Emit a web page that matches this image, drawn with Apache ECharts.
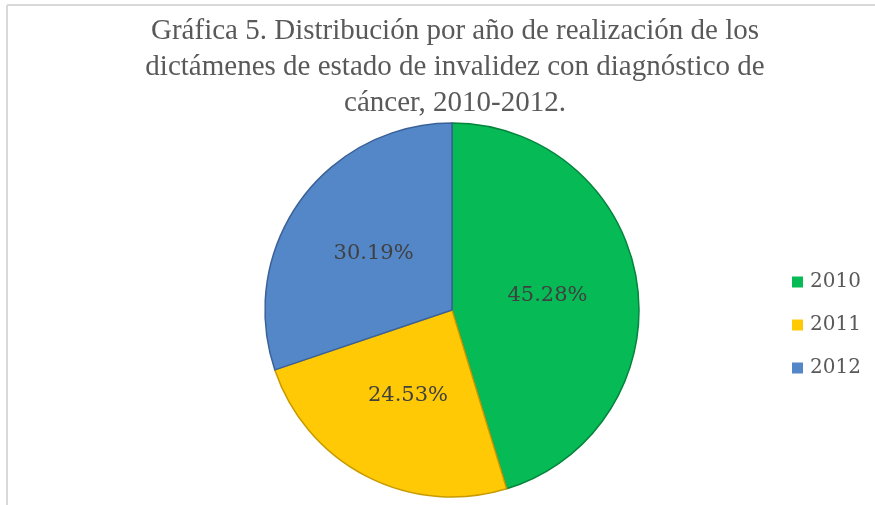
<!DOCTYPE html>
<html>
<head>
<meta charset="utf-8">
<script src="https://cdn.jsdelivr.net/npm/echarts@6/dist/echarts.min.js"></script>
<style>
html,body{margin:0;padding:0;background:#fff;}
#chart{width:875px;height:505px;}
</style>
</head>
<body>
<div id="chart"></div>
<script>
var categories = ['2010', '2011', '2012'];
var values = [45.28, 24.53, 30.19];
var colors = ['#06bb56', '#ffc906', '#5487c8'];
var borderColors = ['#04843c', '#c79a00', '#3b6298'];
var titleText = 'Gráfica 5. Distribución por año de realización de los\ndictámenes de estado de invalidez con diagnóstico de\ncáncer, 2010-2012.';

var chart = echarts.init(document.getElementById('chart'));
var data = categories.map(function (c, i) {
  return {
    name: c,
    value: values[i],
    itemStyle: { color: colors[i], borderColor: borderColors[i], borderWidth: 1.5 }
  };
});
chart.setOption({
  backgroundColor: '#ffffff',
  animation: false,
  title: {
    text: titleText,
    left: 455,
    textAlign: 'center',
    top: 13,
    padding: 0,
    textStyle: {
      fontFamily: 'Liberation Serif',
      fontSize: 29,
      fontWeight: 'normal',
      lineHeight: 36,
      color: '#595959'
    }
  },
  legend: {
    orient: 'vertical',
    left: 787,
    top: 267,
    itemWidth: 11,
    itemHeight: 11,
    itemGap: 23,
    icon: 'rect',
    data: categories,
    itemStyle: { borderWidth: 0 },
    textStyle: { fontFamily: 'DejaVu Serif', fontSize: 20, color: '#595959', padding: [0, 0, 0, 2] }
  },
  graphic: [
    { type: 'line', shape: { x1: 7, y1: 5, x2: 875, y2: 5 }, style: { stroke: '#d9d9d9', lineWidth: 2 } },
    { type: 'line', shape: { x1: 7, y1: 5, x2: 7, y2: 505 }, style: { stroke: '#d9d9d9', lineWidth: 2 } }
  ],
  series: [{
    type: 'pie',
    center: [452, 310],
    radius: 187,
    startAngle: 90,
    clockwise: true,
    data: data,
    label: {
      show: true,
      position: 'inner',
      formatter: function (p) { return p.value.toFixed(2) + '%'; },
      fontFamily: 'DejaVu Serif',
      fontSize: 21,
      color: '#404040'
    },
    labelLine: { show: false },
    emphasis: { disabled: true }
  }]
});
</script>
</body>
</html>
